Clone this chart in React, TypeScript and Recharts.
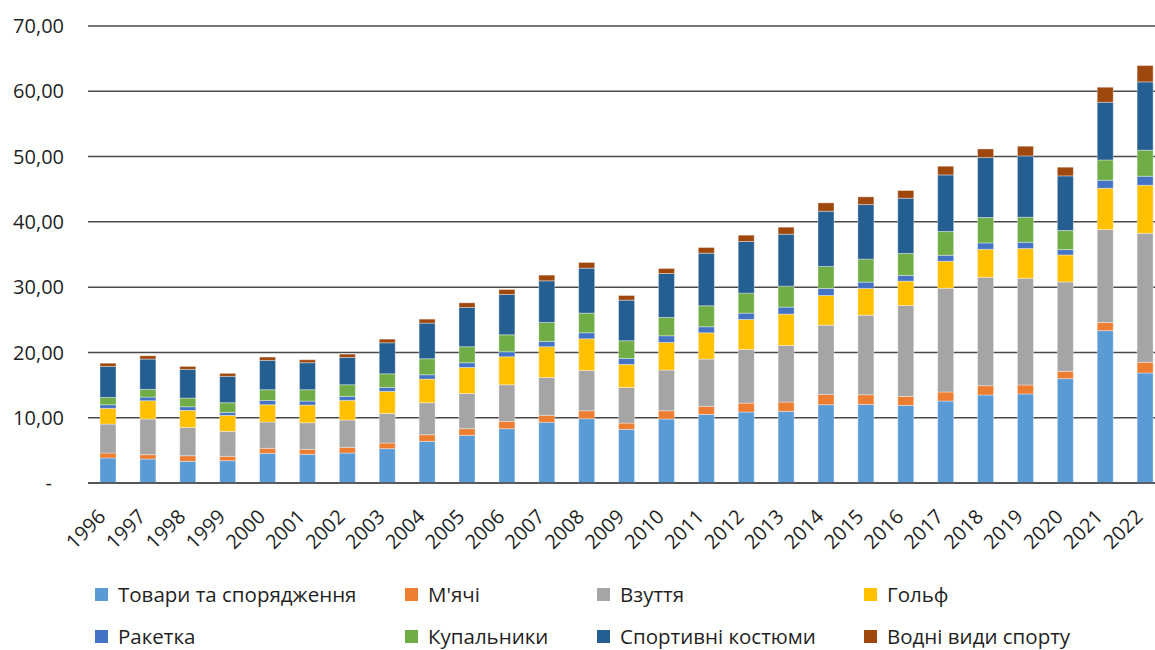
import { BarChart, Bar, CartesianGrid, XAxis, YAxis } from "recharts";

const years = [
  "1996", "1997", "1998", "1999", "2000", "2001", "2002", "2003", "2004",
  "2005", "2006", "2007", "2008", "2009", "2010", "2011", "2012", "2013",
  "2014", "2015", "2016", "2017", "2018", "2019", "2020", "2021", "2022",
];

const goods = [3.83, 3.67, 3.32, 3.42, 4.54, 4.39, 4.59, 5.26, 6.38, 7.3, 8.32, 9.29, 9.85, 8.21, 9.8, 10.51, 10.87, 10.97, 11.99, 12.04, 11.89, 12.56, 13.48, 13.64, 15.99, 23.34, 16.85];
const balls = [0.76, 0.67, 0.86, 0.66, 0.77, 0.76, 0.87, 0.86, 1.02, 1.02, 1.12, 1.07, 1.22, 0.97, 1.27, 1.22, 1.37, 1.43, 1.58, 1.48, 1.38, 1.38, 1.43, 1.38, 1.12, 1.23, 1.64];
const shoes = [4.44, 5.46, 4.34, 3.83, 4.03, 4.08, 4.18, 4.54, 4.9, 5.4, 5.61, 5.81, 6.17, 5.46, 6.23, 7.25, 8.22, 8.67, 10.61, 12.19, 13.92, 15.89, 16.6, 16.34, 13.69, 14.25, 19.76];
const golf = [2.4, 2.8, 2.6, 2.45, 2.65, 2.71, 3.01, 3.37, 3.62, 3.98, 4.29, 4.7, 4.85, 3.52, 4.23, 4.03, 4.59, 4.8, 4.54, 4.09, 3.73, 4.13, 4.29, 4.54, 4.13, 6.33, 7.36];
const racket = [0.56, 0.56, 0.56, 0.46, 0.66, 0.61, 0.62, 0.61, 0.66, 0.72, 0.76, 0.81, 0.92, 0.92, 1.02, 0.92, 0.97, 1.07, 1.08, 0.97, 0.87, 0.92, 0.97, 0.97, 0.82, 1.22, 1.38];
const swimwear = [1.12, 1.18, 1.33, 1.48, 1.64, 1.74, 1.78, 2.09, 2.45, 2.45, 2.6, 2.91, 3.01, 2.71, 2.81, 3.21, 3.06, 3.21, 3.36, 3.52, 3.36, 3.63, 3.88, 3.84, 2.91, 3.12, 3.98];
const suits = [4.74, 4.64, 4.39, 4.03, 4.49, 4.13, 4.18, 4.75, 5.46, 6.02, 6.18, 6.38, 6.89, 6.22, 6.73, 8.06, 7.91, 7.96, 8.47, 8.36, 8.47, 8.68, 9.2, 9.39, 8.38, 8.83, 10.47];
const water = [0.5, 0.51, 0.46, 0.46, 0.51, 0.46, 0.51, 0.56, 0.61, 0.71, 0.76, 0.87, 0.87, 0.71, 0.77, 0.87, 0.97, 1.07, 1.28, 1.18, 1.18, 1.33, 1.32, 1.48, 1.33, 2.3, 2.5];

const yTicks = [0, 10, 20, 30, 40, 50, 60, 70];

const series = [
  { key: "goods", name: "Товари та спорядження", color: "#5B9BD5", values: goods },
  { key: "balls", name: "М'ячі", color: "#ED7D31", values: balls },
  { key: "shoes", name: "Взуття", color: "#A5A5A5", values: shoes },
  { key: "golf", name: "Гольф", color: "#FFC000", values: golf },
  { key: "racket", name: "Ракетка", color: "#4472C4", values: racket },
  { key: "swimwear", name: "Купальники", color: "#70AD47", values: swimwear },
  { key: "suits", name: "Спортивні костюми", color: "#255E91", values: suits },
  { key: "water", name: "Водні види спорту", color: "#9E480E", values: water },
];

const data = years.map((year, i) => {
  const row: Record<string, string | number> = { year };
  series.forEach((s) => {
    row[s.key] = s.values[i];
  });
  return row;
});

const FONT = "'Open Sans', sans-serif";
const TEXT = "#1f1f1f";
const GRID = "#4a4a4a";

// legend is laid out in two rows of four, like the original
const legendCols = [95, 405, 597, 864];
const legendRows = [594, 636];

function YTick({ x, y, payload }: any) {
  const v = payload.value as number;
  const label = v === 0 ? "-" : v.toFixed(2).replace(".", ",");
  return (
    <text
      x={v === 0 ? x - 12 : x}
      y={y}
      dy="0.36em"
      textAnchor="end"
      fill={TEXT}
      fontSize={20}
      fontFamily={FONT}
    >
      {label}
    </text>
  );
}

function XTick({ x, y, payload }: any) {
  const ax = x - 1;
  const ay = y + 27;
  return (
    <text
      x={ax}
      y={ay}
      textAnchor="end"
      fill={TEXT}
      fontSize={20}
      fontFamily={FONT}
      transform={`rotate(-45, ${ax}, ${ay})`}
    >
      {payload.value}
    </text>
  );
}

export default function App() {
  return (
    <div
      style={{
        position: "absolute",
        left: 0,
        top: 0,
        width: 1155,
        height: 650,
        overflow: "hidden",
        background: "#fff",
        fontFamily: FONT,
      }}
    >
      <BarChart
        width={1165}
        height={650}
        data={data}
        margin={{ top: 26, right: 0, bottom: 67, left: 0 }}
        barSize={16}
      >
        <CartesianGrid vertical={false} stroke={GRID} strokeWidth={1.5} />
        <XAxis
          dataKey="year"
          height={100}
          interval={0}
          tickLine={false}
          axisLine={{ stroke: GRID, strokeWidth: 1.5 }}
          tick={<XTick />}
        />
        <YAxis
          width={88}
          domain={[0, 70]}
          ticks={yTicks}
          axisLine={false}
          tickLine={false}
          tickSize={0}
          tickMargin={24}
          tick={<YTick />}
        />
        {series.map((s) => (
          <Bar
            key={s.key}
            dataKey={s.key}
            name={s.name}
            stackId="a"
            fill={s.color}
            stroke="#ffffff"
            strokeOpacity={0.6}
            strokeWidth={0.6}
            isAnimationActive={false}
          />
        ))}
      </BarChart>

      {series.map((s, i) => (
        <div
          key={s.key}
          style={{
            position: "absolute",
            left: legendCols[i % 4],
            top: legendRows[Math.floor(i / 4)] - 7,
            height: 14,
            lineHeight: "14px",
            display: "flex",
            alignItems: "center",
            whiteSpace: "nowrap",
            fontSize: 20.5,
            color: TEXT,
          }}
        >
          <span
            style={{
              display: "inline-block",
              width: 13,
              height: 13,
              background: s.color,
              marginRight: 10,
            }}
          />
          <span>{s.name}</span>
        </div>
      ))}
    </div>
  );
}
